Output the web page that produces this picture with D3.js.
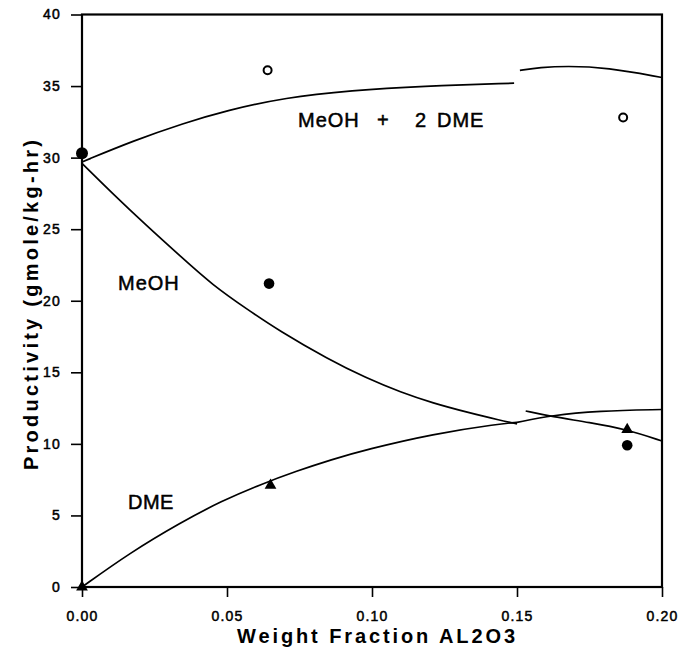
<!DOCTYPE html>
<html>
<head>
<meta charset="utf-8">
<script src="https://cdn.jsdelivr.net/npm/d3@7/dist/d3.min.js"></script>
<style>
  html, body { margin: 0; padding: 0; background: #fff; }
  svg text { font-family: "Liberation Sans", Arial, sans-serif; fill: #000; }
</style>
</head>
<body>
<svg id="chart" width="681" height="651"></svg>
<script>
// curve segments: [weight fraction, productivity]
const sumPart1 = [[0, 29.7], [0.018, 31.2], [0.035, 32.4], [0.05, 33.3], [0.07, 34.2], [0.093, 34.7], [0.117, 35.0], [0.149, 35.2]]
const sumPart2 = [[0.151, 36.1], [0.158, 36.3], [0.167, 36.4], [0.181, 36.3], [0.2, 35.6]]
const meohPart1 = [[0, 29.6], [0.011, 27.4], [0.022, 25.3], [0.034, 23.1], [0.045, 21.1], [0.057, 19.4], [0.068, 17.9], [0.085, 15.9], [0.098, 14.6], [0.11, 13.6], [0.121, 12.85], [0.133, 12.2], [0.144, 11.65], [0.15, 11.4]]
const meohPart2 = [[0.153, 12.3], [0.162, 11.9], [0.175, 11.5], [0.188, 11.0], [0.2, 10.2]]
const dmePart1 = [[0, 0], [0.0166, 2.4], [0.034, 4.5], [0.048, 6.0], [0.062, 7.2], [0.074, 8.1], [0.086, 8.9], [0.098, 9.6], [0.121, 10.7], [0.144, 11.4], [0.15, 11.5]]
const dmePart2 = [[0.15, 11.5], [0.162, 12.0], [0.178, 12.3], [0.2, 12.4]]

// measured points
const openCircles = [[0.064, 36.1], [0.1866, 32.8]]
const filledCircles = [[0, 30.3], [0.0645, 21.2], [0.188, 9.9]]
const triangles = [[0, 0], [0.065, 7.1], [0.188, 11.0]]

const xTicks = [0, 0.05, 0.1, 0.15, 0.2]
const yTicks = [0, 5, 10, 15, 20, 25, 30, 35, 40]

const svg = d3.select('#chart')
const plotLeft = 82, plotRight = 662, plotTop = 14.5, plotBottom = 587

const x = d3.scaleLinear().domain([0, 0.2]).range([plotLeft, plotRight])
const y = d3.scaleLinear().domain([0, 40]).range([plotBottom, plotTop])

// axes
const xAxis = svg.append('g')
  .attr('transform', `translate(0,${plotBottom})`)
  .call(d3.axisBottom(x).tickValues(xTicks).tickFormat(d3.format('.2f')).tickSize(10).tickPadding(14))
const yAxis = svg.append('g')
  .attr('transform', `translate(${plotLeft},0)`)
  .call(d3.axisLeft(y).tickValues(yTicks).tickFormat(d3.format('d')).tickSize(11).tickPadding(10))

;[xAxis, yAxis].forEach(a => {
  a.select('.domain').remove()
  a.selectAll('.tick line').attr('stroke', '#000').attr('stroke-width', 1.6)
  a.selectAll('.tick text')
    .style('font-size', '14px')
    .style('letter-spacing', '1.2px')
    .attr('stroke', '#000')
    .attr('stroke-width', 0.5)
})

// frame
svg.append('rect')
  .attr('x', plotLeft).attr('y', plotTop)
  .attr('width', plotRight - plotLeft).attr('height', plotBottom - plotTop)
  .attr('fill', 'none')
  .attr('stroke', '#000')
  .attr('stroke-width', 2.2)

// curves
const line = d3.line()
  .x(d => x(d[0]))
  .y(d => y(d[1]))
  .curve(d3.curveBasis)

svg.append('g')
  .selectAll('path')
  .data([sumPart1, sumPart2, meohPart1, meohPart2, dmePart1, dmePart2])
  .enter()
  .append('path')
  .attr('d', line)
  .attr('fill', 'none')
  .attr('stroke', '#000')
  .attr('stroke-width', 1.7)

// markers
svg.append('g')
  .selectAll('circle')
  .data(openCircles)
  .enter()
  .append('circle')
  .attr('cx', d => x(d[0]))
  .attr('cy', d => y(d[1]))
  .attr('r', 4)
  .attr('fill', '#fff')
  .attr('stroke', '#000')
  .attr('stroke-width', 2)

svg.append('g')
  .selectAll('circle')
  .data(filledCircles)
  .enter()
  .append('circle')
  .attr('cx', d => x(d[0]))
  .attr('cy', d => y(d[1]))
  .attr('r', (d, i) => i === 0 ? 6 : 5.3)
  .attr('fill', '#000')

const tri = d3.symbol().type(d3.symbolTriangle).size(60)
svg.append('g')
  .selectAll('path')
  .data(triangles)
  .enter()
  .append('path')
  .attr('d', tri)
  .attr('transform', d => `translate(${x(d[0])},${y(d[1])})`)
  .attr('fill', '#000')

// curve labels
const labelStyle = sel => sel
  .style('font-size', '20px')
  .style('letter-spacing', '1px')
  .attr('stroke', '#000')
  .attr('stroke-width', 0.5)

const sumLabel = svg.append('text').attr('y', 127).call(labelStyle)
sumLabel.append('tspan').attr('x', 298).text('MeOH')
sumLabel.append('tspan').attr('x', 377).text('+')
sumLabel.append('tspan').attr('x', 415).text('2')
sumLabel.append('tspan').attr('x', 437).text('DME')

svg.append('text')
  .attr('x', 118).attr('y', 290)
  .call(labelStyle)
  .text('MeOH')

svg.append('text')
  .attr('x', 128).attr('y', 509)
  .call(labelStyle)
  .style('letter-spacing', '0.5px')
  .text('DME')

// axis titles
svg.append('text')
  .attr('x', 237).attr('y', 643)
  .attr('textLength', 278)
  .attr('lengthAdjust', 'spacing')
  .style('font-size', '20px')
  .style('font-weight', 'bold')
  .text('Weight Fraction AL2O3')

svg.append('text')
  .attr('transform', 'translate(38,470) rotate(-90)')
  .attr('textLength', 330)
  .attr('lengthAdjust', 'spacing')
  .style('font-size', '20px')
  .style('font-weight', 'bold')
  .text('Productivity (gmole/kg-hr)')
</script>
</body>
</html>
